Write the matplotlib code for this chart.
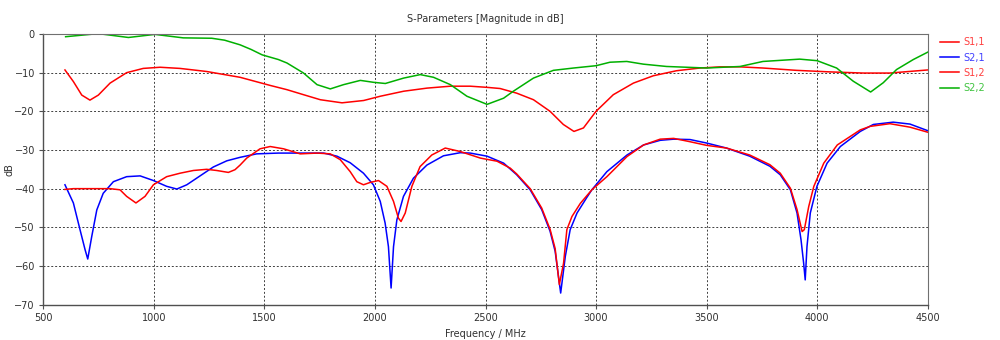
import matplotlib
matplotlib.use("Agg")
import matplotlib.pyplot as plt
import numpy as np

# frequency points in MHz and magnitudes in dB for each S-parameter
s11_f = [598, 636, 674, 711, 749, 802, 877, 952, 1028, 1118, 1179, 1239, 1390, 1526, 1602, 1677,
         1753, 1851, 1949, 2024, 2130, 2235, 2341, 2431, 2507, 2566, 2641, 2717, 2792, 2852, 2900,
         2943, 3000, 3078, 3169, 3259, 3364, 3470, 3560, 3651, 3755, 3906, 4057, 4208, 4329, 4500]
s11_db = [-9.3, -12.3, -15.8, -17.1, -15.8, -12.7, -10.0, -8.9, -8.6, -8.9, -9.3, -9.7, -11.2,
          -13.3, -14.4, -15.7, -17.0, -17.8, -17.2, -16.1, -14.8, -14.0, -13.5, -13.5, -13.8,
          -14.1, -15.3, -17.0, -20.0, -23.4, -25.2, -24.3, -20.0, -15.7, -12.7, -10.8, -9.5,
          -8.8, -8.5, -8.5, -8.8, -9.4, -9.8, -10.1, -10.1, -9.3]

s21_f = [598, 636, 666, 689, 701, 719, 742, 771, 817, 877, 938, 998, 1058, 1104, 1149, 1209, 1269,
         1330, 1390, 1465, 1563, 1677, 1768, 1828, 1888, 1948, 1993, 2024, 2046, 2061, 2073, 2084,
         2099, 2129, 2174, 2235, 2310, 2386, 2431, 2507, 2582, 2641, 2702, 2754, 2792, 2815,
         2840, 2861, 2883, 2914, 2958, 2981, 3049, 3140, 3215, 3290, 3351, 3425, 3500, 3590,
         3695, 3786, 3833, 3879, 3909, 3927, 3939, 3946, 3954, 3969, 3999, 4045, 4105, 4195,
         4254, 4344, 4420, 4500]
s21_db = [-39.0, -43.7, -50.6, -55.8, -58.2, -52.4, -45.5, -41.2, -38.2, -36.9, -36.7, -37.9,
          -39.4, -40.1, -39.0, -36.7, -34.4, -32.8, -31.9, -31.0, -30.8, -30.8, -30.8, -31.6,
          -33.3, -36.0, -39.0, -43.3, -48.9, -55.0, -65.7, -55.0, -48.1, -42.0, -37.3, -33.9,
          -31.5, -30.7, -30.8, -31.6, -33.4, -36.4, -40.3, -45.4, -51.0, -56.2, -67.0, -57.5,
          -50.6, -46.3, -42.3, -40.3, -35.6, -31.3, -28.7, -27.5, -27.2, -27.3, -28.2, -29.5,
          -31.6, -34.2, -36.4, -40.3, -46.3, -53.2, -59.3, -63.6, -55.0, -46.3, -39.4, -33.4,
          -29.1, -25.2, -23.4, -22.8, -23.3, -25.0]

s12_f = [598, 636, 711, 802, 847, 877, 919, 960, 998, 1058, 1119, 1179, 1239, 1284, 1337, 1367,
         1390, 1420, 1480, 1526, 1587, 1662, 1738, 1798, 1843, 1888, 1918, 1948, 1978, 2016,
         2054, 2084, 2106, 2118, 2137, 2167, 2204, 2257, 2318, 2386, 2477, 2552, 2612, 2641,
         2702, 2754, 2792, 2815, 2834, 2853, 2868, 2891, 2929, 2981, 3049, 3140, 3215, 3290,
         3351, 3420, 3500, 3590, 3695, 3786, 3833, 3879, 3909, 3932, 3942, 3962, 3985, 4030,
         4091, 4195, 4239, 4329, 4420, 4500]
s12_db = [-40.2, -40.0, -40.0, -40.0, -40.3, -42.0, -43.7, -42.0, -39.0, -36.9, -36.0, -35.3,
          -35.0, -35.3, -35.8, -35.1, -33.9, -32.1, -29.7, -29.1, -29.7, -31.0, -30.8, -31.0,
          -32.5, -35.6, -38.2, -39.0, -38.4, -37.9, -39.4, -43.3, -47.6, -48.5, -46.3, -39.4,
          -34.3, -31.3, -29.5, -30.4, -32.1, -32.9, -34.7, -36.2, -40.0, -45.0, -50.5, -55.5,
          -64.8, -59.3, -50.6, -47.2, -43.8, -40.3, -36.9, -31.7, -28.7, -27.2, -27.0, -27.8,
          -28.8, -29.5, -31.3, -33.8, -36.0, -39.9, -45.4, -51.1, -50.6, -44.6, -39.4, -33.4,
          -28.7, -24.8, -23.9, -23.2, -24.1, -25.4]

s22_f = [601, 749, 885, 1005, 1133, 1262, 1320, 1390, 1440, 1490, 1563, 1602, 1677, 1738, 1798,
         1858, 1934, 1994, 2047, 2130, 2205, 2265, 2341, 2416, 2507, 2582, 2626, 2717, 2807, 2898,
         3000, 3063, 3139, 3214, 3319, 3410, 3500, 3651, 3755, 3921, 4000, 4088, 4163, 4242,
         4299, 4359, 4435, 4500]
s22_db = [-0.7, 0.1, -0.9, -0.1, -1.0, -1.1, -1.6, -2.8, -4.0, -5.4, -6.6, -7.5, -10.1, -13.1,
          -14.2, -13.1, -12.0, -12.5, -12.8, -11.4, -10.5, -11.2, -13.1, -16.1, -18.2, -16.6,
          -14.8, -11.4, -9.4, -8.8, -8.2, -7.3, -7.1, -7.8, -8.4, -8.6, -8.8, -8.4, -7.1, -6.5,
          -6.9, -8.8, -12.2, -15.0, -12.6, -9.2, -6.6, -4.7]

RED = "#ff0000"
BLUE = "#0000ff"
GREEN = "#00b000"

plt.rcParams["font.family"] = "DejaVu Sans"
plt.rcParams["font.size"] = 7

fig = plt.figure(figsize=(10, 3.4), dpi=100)
ax = fig.add_axes([0.0433, 0.104, 0.8844, 0.796])

l1, = ax.plot(s11_f, s11_db, color=RED, lw=1.1, label="S1,1")
l2, = ax.plot(s21_f, s21_db, color=BLUE, lw=1.1, label="S2,1")
l3, = ax.plot(s12_f, s12_db, color=RED, lw=1.1, label="S1,2")
l4, = ax.plot(s22_f, s22_db, color=GREEN, lw=1.1, label="S2,2")

ax.set_xlim(500, 4500)
ax.set_ylim(-70, 0)
ax.set_xticks(np.arange(500, 4501, 500))
ax.set_yticks(np.arange(-70, 1, 10))
ax.grid(True, color="#404040", linestyle=(0, (2, 2)), linewidth=0.7)
ax.tick_params(direction="out", length=3, width=0.8, color="#505050",
               labelcolor="#303030", labelsize=7, pad=3)

for side in ["left", "bottom"]:
    ax.spines[side].set_color("#505050")
    ax.spines[side].set_linewidth(1.0)
for side in ["top", "right"]:
    ax.spines[side].set_color("#707070")
    ax.spines[side].set_linewidth(0.8)

ax.set_title("S-Parameters [Magnitude in dB]", fontsize=7, color="#303030", pad=9)
ax.set_xlabel("Frequency / MHz", fontsize=7, color="#303030", labelpad=4)
ax.set_ylabel("dB", fontsize=7, color="#303030")
ax.yaxis.set_label_coords(-0.032, 0.5)

leg = fig.legend(handles=[l1, l2, l3, l4], loc="upper left", bbox_to_anchor=(0.935, 0.905),
                 frameon=False, fontsize=7, handlelength=2.0, handletextpad=0.4,
                 labelspacing=0.55, borderpad=0.0)
for txt, line in zip(leg.get_texts(), [l1, l2, l3, l4]):
    txt.set_color(line.get_color())
    txt.set_alpha(0.75)

fig.savefig("out.png", dpi=100)
